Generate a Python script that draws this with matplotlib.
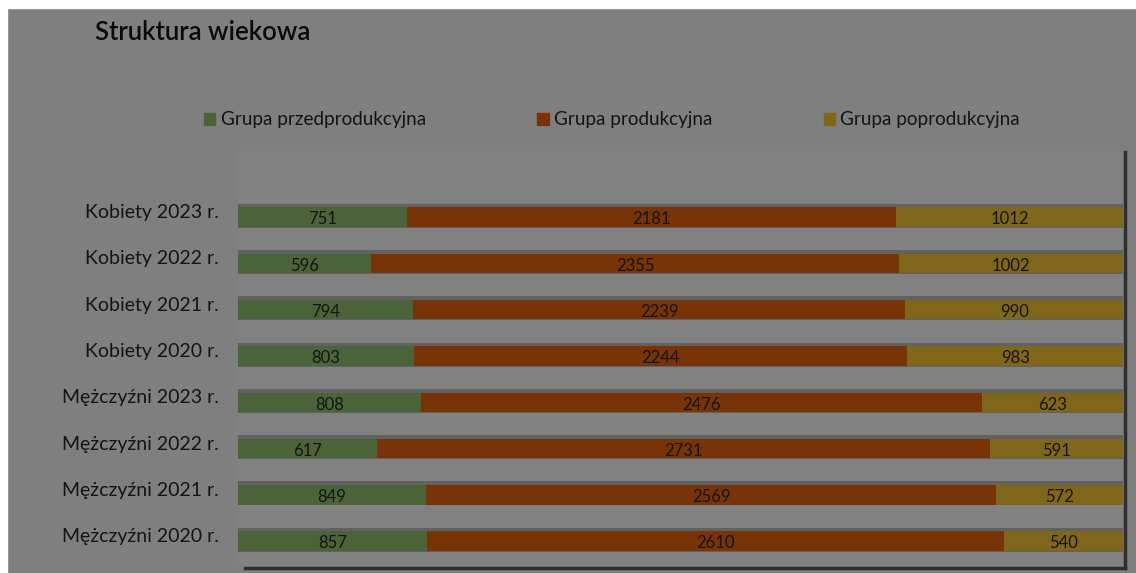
import matplotlib
matplotlib.use("Agg")
import matplotlib.pyplot as plt
import matplotlib.transforms as mtransforms
import numpy as np
from matplotlib.patches import Rectangle
from matplotlib.lines import Line2D

categories = ["Mężczyźni 2020 r.", "Mężczyźni 2021 r.", "Mężczyźni 2022 r.", "Mężczyźni 2023 r.",
              "Kobiety 2020 r.", "Kobiety 2021 r.", "Kobiety 2022 r.", "Kobiety 2023 r."]
przed = [857, 849, 617, 808, 803, 794, 596, 751]
prod = [2610, 2569, 2731, 2476, 2244, 2239, 2355, 2181]
poprod = [540, 572, 591, 623, 983, 990, 1002, 1012]
series_names = ["Grupa przedprodukcyjna", "Grupa produkcyjna", "Grupa poprodukcyjna"]
colors = ["#4a6338", "#783306", "#80661a"]

FONT = "Lato"
W, H = 1136, 573
fig = plt.figure(figsize=(W / 100, H / 100), dpi=100)
fig.patch.set_facecolor("#7f7f7f")

ax = fig.add_axes([238 / W, 1 - 567 / H, (1123 - 238) / W, (567 - 150) / H])
ax.set_facecolor("#818181")

vals = np.array([przed, prod, poprod], dtype=float)
tot = vals.sum(axis=0)
shares = vals / tot
y = np.arange(len(categories))
bh = 0.42

# shadow behind bars
ax.barh(y + 0.03, np.ones(len(y)), height=bh + 0.1, left=0, color="#3a3a3a", alpha=0.45,
        zorder=1)

left = np.zeros(len(y))
for i in range(3):
    ax.barh(y, shares[i], height=bh, left=left, color=colors[i], zorder=2,
            label=series_names[i])
    for j in range(len(y)):
        ax.text(left[j] + shares[i][j] / 2, y[j] - 0.05, str(int(vals[i][j])),
                ha="center", va="center", fontsize=12, color="#141414",
                family=FONT, zorder=3)
    left = left + shares[i]

ax.set_xlim(0, 1)
ax.set_ylim(-0.56, 8.45)
ax.set_yticks(y)
ax.set_yticklabels(categories, family=FONT, fontsize=14, color="#141414")
ax.tick_params(axis="y", length=0, pad=14)
ax.set_xticks([])
for s in ax.spines.values():
    s.set_visible(False)

# category labels sit slightly above bar centres in the reference
shift = mtransforms.ScaledTranslation(0, 6 / 100, fig.dpi_scale_trans)
for lab in ax.get_yticklabels():
    lab.set_transform(lab.get_transform() + shift)

# plot area shadow lines (right and bottom)
fig.add_artist(Line2D([245 / W, 1125 / W], [1 - 568 / H, 1 - 568 / H],
                      color="#2e2e2e", lw=2.5, transform=fig.transFigure))
fig.add_artist(Line2D([1125 / W, 1125 / W], [1 - 568 / H, 1 - 152 / H],
                      color="#2e2e2e", lw=2.5, transform=fig.transFigure))

# legend
handles = [Rectangle((0, 0), 1, 1, color=c) for c in colors]
leg = fig.legend(handles, series_names, loc="center", bbox_to_anchor=(612 / W, 1 - 120 / H),
                 ncol=3, frameon=False, handlelength=0.6, handleheight=0.6,
                 handletextpad=0.28, columnspacing=5.9,
                 prop={"family": FONT, "size": 13.6})
for t in leg.get_texts():
    t.set_color("#141414")

fig.text(95 / W, 1 - 32 / H, "Struktura wiekowa", fontsize=18.5, fontweight="semibold",
         family=FONT, color="#0a0a0a", ha="left", va="center")

# white strips at top and left
fig.add_artist(Rectangle((0, 1 - 8 / H), 1, 8 / H, color="white", transform=fig.transFigure, zorder=10))
fig.add_artist(Rectangle((0, 0), 7 / W, 1, color="white", transform=fig.transFigure, zorder=10))

fig.savefig("out.png", dpi=100, facecolor=fig.get_facecolor())
